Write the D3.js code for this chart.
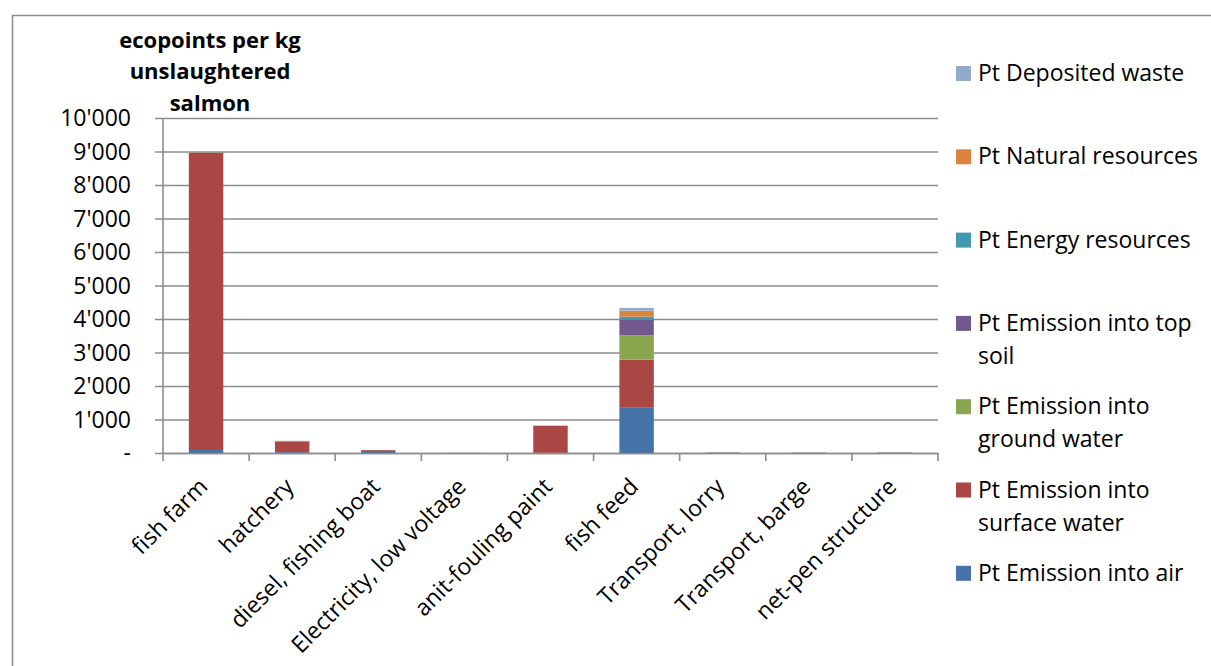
<!DOCTYPE html>
<html>
<head>
<meta charset="utf-8">
<script src="https://cdn.jsdelivr.net/npm/d3@7"></script>
<style>
  html, body { margin: 0; padding: 0; background: #fff; }
  svg { display: block; font-family: "Open Sans", "Noto Sans", sans-serif; }
</style>
</head>
<body>
<svg id="chart" width="1211" height="666"></svg>
<script>
// ---- data ----
const categories = ["fish farm", "hatchery", "diesel, fishing boat", "Electricity, low voltage",
  "anit-fouling paint", "fish feed", "Transport, lorry", "Transport, barge", "net-pen structure"];
const seriesNames = ["Pt Emission into air", "Pt Emission into surface water", "Pt Emission into ground water",
  "Pt Emission into top soil", "Pt Energy resources", "Pt Natural resources", "Pt Deposited waste"];
const emissionAir      = [90, 25, 60, 3, 5, 1350, 10, 8, 8];
const emissionSurface  = [8870, 320, 25, 2, 810, 1435, 5, 5, 6];
const emissionGround   = [0, 0, 0, 0, 0, 728, 0, 0, 0];
const emissionTopSoil  = [0, 0, 0, 0, 0, 467, 0, 0, 0];
const energyResources  = [2, 3, 3, 0, 0, 90, 1, 1, 1];
const naturalResources = [3, 12, 2, 0, 0, 180, 1, 1, 1];
const depositedWaste   = [2, 5, 0, 0, 0, 80, 1, 1, 1];
const yTicks = [0, 1000, 2000, 3000, 4000, 5000, 6000, 7000, 8000, 9000, 10000];
const yTickLabels = ["-", "1'000", "2'000", "3'000", "4'000", "5'000", "6'000", "7'000", "8'000", "9'000", "10'000"];
const titleLines = ["ecopoints per kg", "unslaughtered", "salmon"];
const legendLines = [
  ["Pt Deposited waste"],
  ["Pt Natural resources"],
  ["Pt Energy resources"],
  ["Pt Emission into top", "soil"],
  ["Pt Emission into", "ground water"],
  ["Pt Emission into", "surface water"],
  ["Pt Emission into air"]
];
const colors = ["#4572A7", "#AA4643", "#89A54E", "#71588F", "#4198AF", "#DB843D", "#93A9CF"];

// ---- build ----
const seriesValues = [emissionAir, emissionSurface, emissionGround, emissionTopSoil,
  energyResources, naturalResources, depositedWaste];
const table = categories.map((c, i) => {
  const row = { cat: c };
  seriesNames.forEach((s, k) => row[s] = seriesValues[k][i]);
  return row;
});
const stacked = d3.stack().keys(seriesNames)(table);

const svg = d3.select("#chart");
const pLeft = 163, pRight = 938, pTop = 118, pBottom = 453;
const gridColor = "#8c8c8c";

// outer border
svg.append("rect").attr("x", 12.5).attr("y", 15.5).attr("width", 1300).attr("height", 800)
  .attr("fill", "none").attr("stroke", gridColor).attr("stroke-width", 1.5);

const x = d3.scaleBand().domain(categories).range([pLeft, pRight]).paddingInner(0.6).paddingOuter(0.3);
const xb = d3.scaleBand().domain(categories).range([pLeft, pRight]);
const y = d3.scaleLinear().domain([0, 10000]).range([pBottom, pTop]);

// gridlines + y axis
const yAxis = d3.axisLeft(y).tickValues(yTicks).tickFormat((d, i) => yTickLabels[i])
  .tickSize(-(pRight - pLeft)).tickSizeOuter(0).tickPadding(32);
const ya = svg.append("g").attr("transform", `translate(${pLeft},0)`).call(yAxis);
ya.select(".domain").remove();
ya.selectAll(".tick line").attr("x1", -8).attr("stroke", gridColor).attr("stroke-width", 1.6);
ya.selectAll(".tick text").attr("font-size", 23).attr("fill", "#000")
  .attr("font-family", "Open Sans").attr("dy", "0.34em");
svg.append("line").attr("x1", pLeft).attr("x2", pLeft).attr("y1", pTop).attr("y2", pBottom)
  .attr("stroke", gridColor).attr("stroke-width", 1.6);

// bars
svg.append("g").selectAll("g").data(stacked).join("g")
  .attr("fill", (d, i) => colors[i])
  .selectAll("rect").data(d => d).join("rect")
  .attr("x", d => x(d.data.cat))
  .attr("width", x.bandwidth())
  .attr("y", d => y(d[1]))
  .attr("height", d => Math.max(0, y(d[0]) - y(d[1])));

// x axis
const xAxis = d3.axisBottom(xb).tickSize(0).tickSizeOuter(0);
const xa = svg.append("g").attr("transform", `translate(0,${pBottom})`).call(xAxis);
xa.select(".domain").attr("stroke", gridColor).attr("stroke-width", 1.6);
xa.selectAll(".tick line").remove();
const bounds = categories.map(c => xb(c)).concat([pRight]);
xa.selectAll(".bound").data(bounds).join("line").attr("class", "bound")
  .attr("x1", d => d).attr("x2", d => d).attr("y1", 0).attr("y2", 8)
  .attr("stroke", gridColor).attr("stroke-width", 1.6);
xa.selectAll(".tick text")
  .attr("font-size", 23).attr("fill", "#000").attr("font-family", "Open Sans")
  .attr("text-anchor", "end").attr("dy", 0).attr("y", 0)
  .attr("transform", "translate(3,35) rotate(-45)");

// title
svg.append("g").selectAll("text").data(titleLines).join("text")
  .attr("x", 210).attr("y", (d, i) => 40 + i * 31.5).attr("dy", "0.35em")
  .attr("text-anchor", "middle").attr("font-weight", "bold").attr("font-size", 22)
  .text(d => d);

// legend
const lg = svg.append("g");
legendLines.forEach((lines, i) => {
  const cy = 73 + i * 83.3;
  const idx = seriesNames.length - 1 - i;
  lg.append("rect").attr("x", 956).attr("y", cy - 7).attr("width", 15).attr("height", 15)
    .attr("fill", colors[idx]);
  lines.forEach((t, j) => {
    lg.append("text").attr("x", 978).attr("y", cy + j * 33).attr("dy", "0.35em")
      .attr("font-size", 23).attr("fill", "#000").text(t);
  });
});
</script>
</body>
</html>
